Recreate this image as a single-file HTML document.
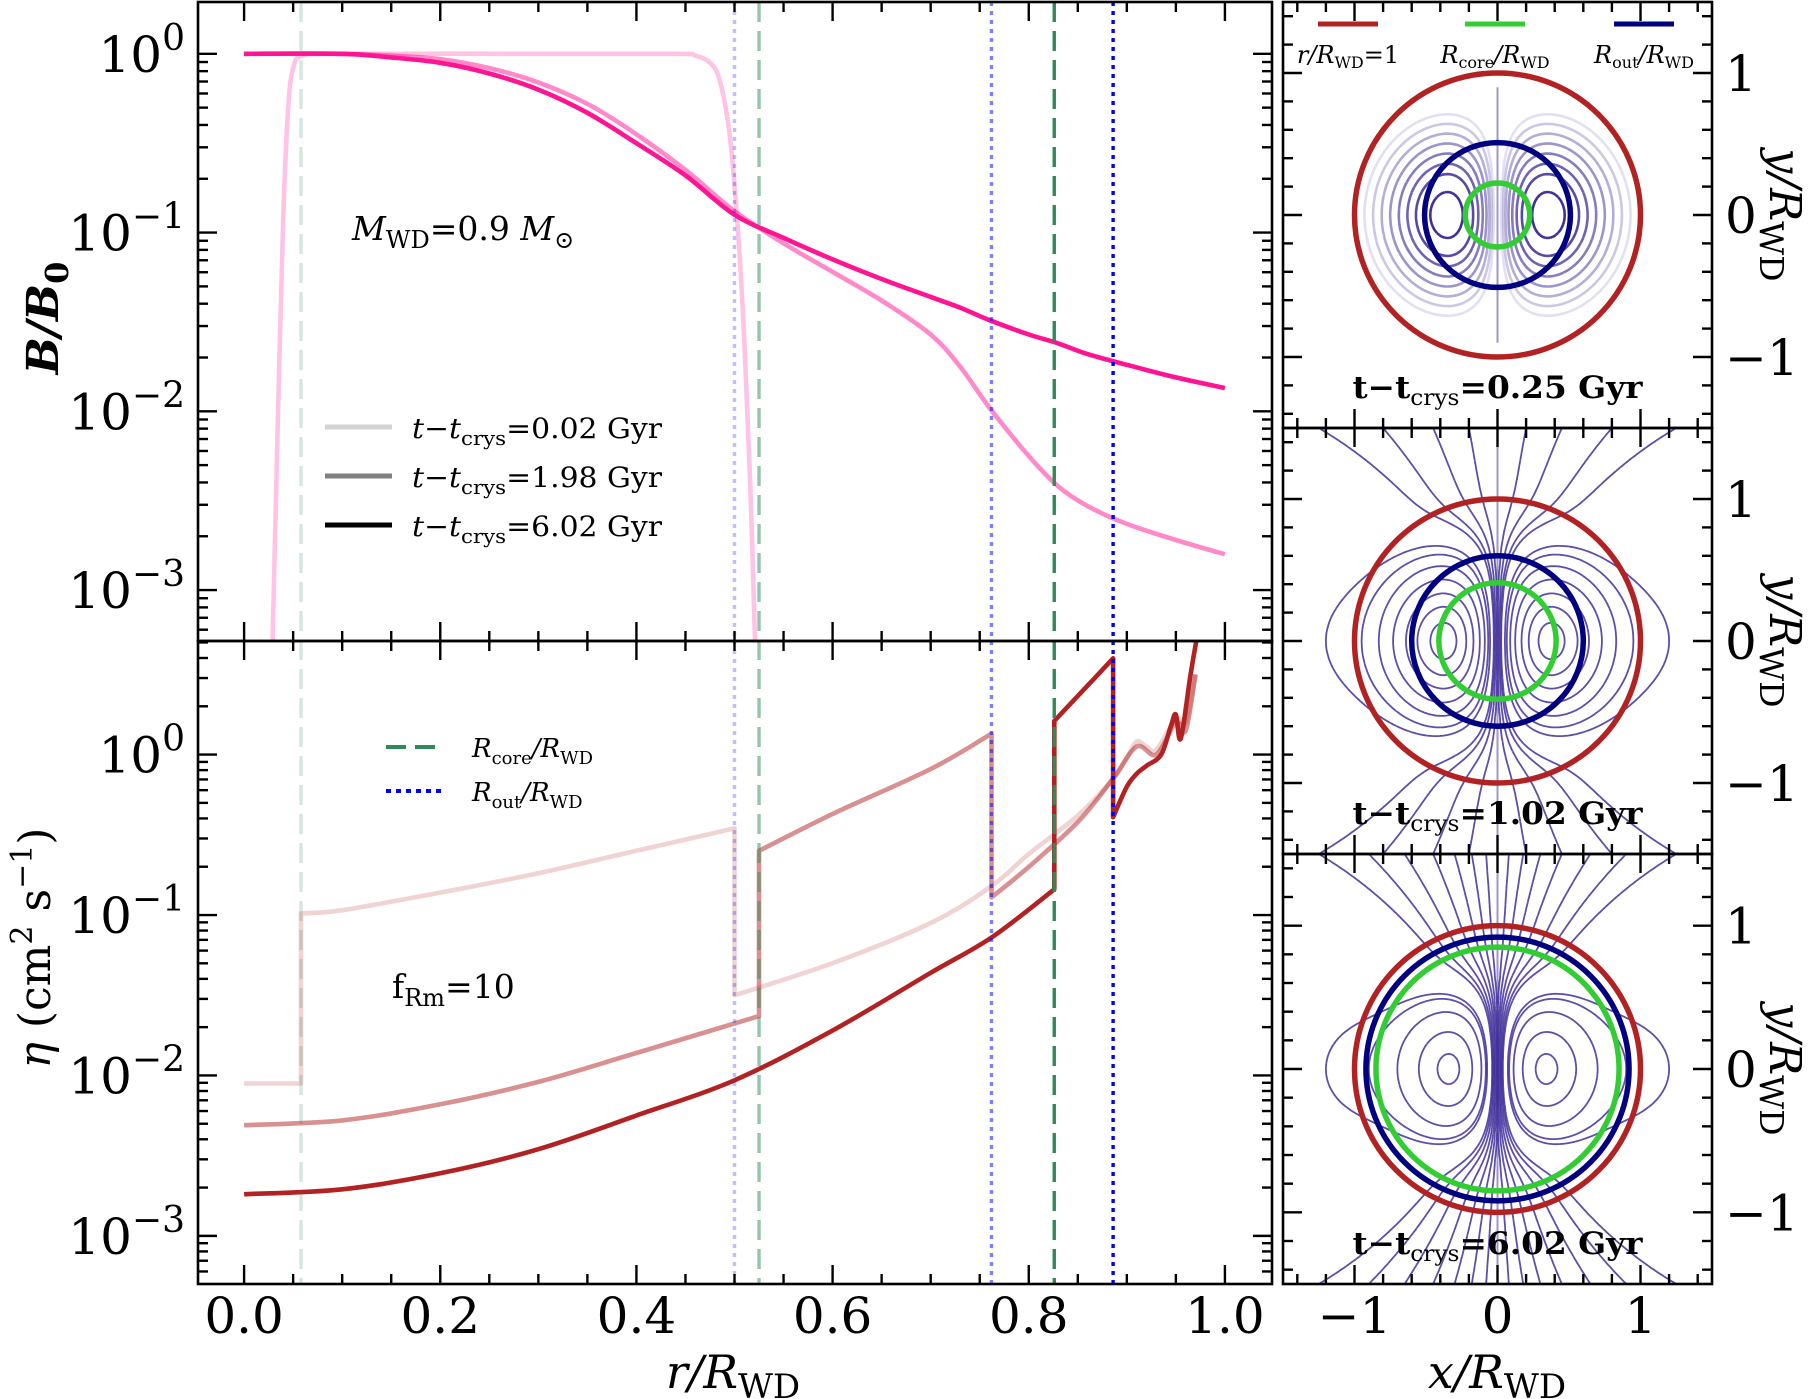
<!DOCTYPE html>
<html><head><meta charset="utf-8"><title>WD magnetic field evolution</title>
<style>
html,body{margin:0;padding:0;background:#fff;}
svg{display:block;font-family:"DejaVu Serif","Liberation Serif",serif;}
</style></head>
<body>
<svg id="fig" width="1808" height="1399" viewBox="0 0 1808 1399" xmlns="http://www.w3.org/2000/svg">
<defs>
<clipPath id="clipTop"><rect x="198" y="2" width="1074" height="639"/></clipPath>
<clipPath id="clipBot"><rect x="198" y="641" width="1074" height="643"/></clipPath>
<clipPath id="clipP0"><rect x="1283" y="2" width="429" height="426"/></clipPath>
<clipPath id="clipP1"><rect x="1283" y="428" width="429" height="426"/></clipPath>
<clipPath id="clipP2"><rect x="1283" y="854" width="429" height="430"/></clipPath>
</defs>
<g id="layer"></g>
</svg>
<script>
// ---------- data ----------
const xTicks = [0.0, 0.2, 0.4, 0.6, 0.8, 1.0];
const xTickLabels = ["0.0", "0.2", "0.4", "0.6", "0.8", "1.0"];
const topDecades = [0, -1, -2, -3];
const botDecades = [0, -1, -2, -3];
const vlineR = [0.058, 0.5, 0.525, 0.762, 0.826, 0.886];
const vlineKind = ["core", "out", "core", "out", "core", "out"];
const vlineAlpha = [0.2, 0.25, 0.5, 0.5, 1, 1];

const bLightR = [0.029,0.032,0.036,0.04,0.045,0.05,0.06,0.1,0.3,0.44,0.46,0.475,0.485,0.495,0.503,0.51,0.516,0.521];
const bLightV = [-3.3,-2.6,-1.7,-0.9,-0.3,-0.08,-0.01,0,0,0,-0.01,-0.05,-0.15,-0.45,-0.95,-1.6,-2.4,-3.3];
const bMidR = [0,0.1,0.15,0.2,0.25,0.3,0.35,0.4,0.45,0.5,0.55,0.6,0.65,0.7,0.73,0.76,0.8,0.83,0.86,0.9,0.95,1.0];
const bMidV = [0,0,-0.01,-0.03,-0.08,-0.16,-0.28,-0.45,-0.65,-0.88,-1.06,-1.22,-1.38,-1.57,-1.75,-1.98,-2.25,-2.42,-2.53,-2.63,-2.72,-2.8];
const bDarkR = [0,0.1,0.15,0.2,0.25,0.3,0.35,0.4,0.45,0.5,0.55,0.6,0.65,0.7,0.73,0.76,0.8,0.83,0.86,0.9,0.95,1.0];
const bDarkV = [0,0,-0.02,-0.05,-0.11,-0.2,-0.33,-0.5,-0.68,-0.9,-1.03,-1.15,-1.26,-1.36,-1.42,-1.49,-1.57,-1.62,-1.68,-1.74,-1.81,-1.87];

const eLightR = [0,0.058,0.058,0.1,0.2,0.3,0.4,0.5,0.5,0.6,0.7,0.762,0.8,0.85,0.886,0.9,0.91,0.92,0.93,0.95,0.96,0.97];
const eLightV = [-2.05,-2.05,-0.99,-0.97,-0.86,-0.74,-0.6,-0.46,-1.5,-1.3,-1.05,-0.82,-0.62,-0.38,-0.15,-0.02,0.08,0.05,0.03,0.22,0.2,0.5];
const eMidR = [0,0.1,0.2,0.3,0.4,0.525,0.525,0.6,0.7,0.762,0.762,0.8,0.85,0.886,0.91,0.93,0.95,0.96,0.97];
const eMidV = [-2.31,-2.28,-2.18,-2.04,-1.86,-1.63,-0.6,-0.37,-0.09,0.13,-0.89,-0.7,-0.42,-0.15,0.05,0.0,0.2,0.15,0.5];
const eDarkR = [0,0.1,0.2,0.3,0.4,0.5,0.6,0.7,0.762,0.826,0.826,0.86,0.886,0.886,0.9,0.91,0.92,0.935,0.945,0.95,0.955,0.965,0.972];
const eDarkV = [-2.74,-2.71,-2.61,-2.46,-2.25,-2.03,-1.72,-1.36,-1.14,-0.84,0.21,0.43,0.6,-0.39,-0.2,-0.12,-0.07,0.0,0.18,0.25,0.1,0.5,0.75];

const panelTitles = ["0.25", "1.02", "6.02"];
const fieldWidth = [0.35, 0.37, 0.33];
const fieldExt = [0, 0.004, 0.008];
const closedCross0 = [0.47, 0.57, 0.63, 0.69, 0.75, 0.81, 0.87, 0.93];
const closedCross1 = [0.47, 0.56, 0.64, 0.73, 0.83, 0.95, 1.2];
const closedCross2 = [0.42, 0.55, 0.7, 0.9, 1.2];
const openCross0 = [];
const openCross1 = [0.2, 0.45, 0.8, 1.25];
const openCross2 = [0.08, 0.18, 0.3, 0.45, 0.65, 0.9, 1.25];
const outRadius = [0.51, 0.6, 0.92];
const coreRadius = [0.225, 0.41, 0.85];

// ---------- helpers ----------
const NS = "http://www.w3.org/2000/svg";
const layer = document.getElementById("layer");
function el(tag, attrs, parent) {
  const e = document.createElementNS(NS, tag);
  for (const k in attrs) e.setAttribute(k, attrs[k]);
  (parent || layer).appendChild(e);
  return e;
}
const X0 = 198, X1 = 1272;
const xMin = -0.047, xMax = 1.048;
function xs(r) { return X0 + (r - xMin) / (xMax - xMin) * (X1 - X0); }
const T0 = 2, T1 = 641, tMin = -3.285, tMax = 0.29;
function yTop(v) { return T0 + (tMax - v) / (tMax - tMin) * (T1 - T0); }
const B0 = 641, B1 = 1284, eMin = -3.3, eMax = 0.708;
function yBot(v) { return B0 + (eMax - v) / (eMax - eMin) * (B1 - B0); }

function linePath(R, V, yf) {
  const segs = []; let cur = [];
  for (let i = 0; i < R.length; i++) {
    if (cur.length && R[i] === R[i - 1]) { segs.push(cur); cur = []; }
    cur.push([xs(R[i]), yf(V[i])]);
  }
  segs.push(cur);
  let d = "";
  segs.forEach((P, si) => {
    d += (si === 0 ? "M" : "L") + P[0][0].toFixed(1) + " " + P[0][1].toFixed(1);
    for (let i = 0; i < P.length - 1; i++) {
      const p0 = P[Math.max(0, i - 1)], p1 = P[i], p2 = P[i + 1], p3 = P[Math.min(P.length - 1, i + 2)];
      const c1 = [p1[0] + (p2[0] - p0[0]) / 6, p1[1] + (p2[1] - p0[1]) / 6];
      const c2 = [p2[0] - (p3[0] - p1[0]) / 6, p2[1] - (p3[1] - p1[1]) / 6];
      d += "C" + c1[0].toFixed(1) + " " + c1[1].toFixed(1) + " " + c2[0].toFixed(1) + " " + c2[1].toFixed(1) + " " + p2[0].toFixed(1) + " " + p2[1].toFixed(1);
    }
  });
  return d;
}

// ---------- left panels ----------
const gTop = el("g", {"clip-path": "url(#clipTop)"});


const gBot = el("g", {"clip-path": "url(#clipBot)"});



for (let i = 0; i < vlineR.length; i++) {
  const core = vlineKind[i] === "core";
  const ln = el("line", {x1: xs(vlineR[i]), x2: xs(vlineR[i]), y1: 2, y2: 1284,
    stroke: core ? "#2e8b57" : "#0000ff", "stroke-opacity": vlineAlpha[i], "stroke-width": 3.4,
    "stroke-dasharray": core ? "20 9" : "4 5"});
  
  
}

const bSeries = [[bLightR, bLightV, 0.25], [bMidR, bMidV, 0.5], [bDarkR, bDarkV, 1]];
const bNames = ['b-curve-0p02-gyr', 'b-curve-1p98-gyr', 'b-curve-6p02-gyr'];
bSeries.forEach((s, i) => {
  const p = el("path", {d: linePath(s[0], s[1], yTop), fill: "none", stroke: "#ff1493", "stroke-opacity": s[2], "stroke-width": 4.6, "stroke-linejoin": "round"}, gTop);
  
  
});
const eSeries = [[eLightR, eLightV, 0.2], [eMidR, eMidV, 0.5], [eDarkR, eDarkV, 1]];
const eNames = ['eta-curve-0p02-gyr', 'eta-curve-1p98-gyr', 'eta-curve-6p02-gyr'];
eSeries.forEach((s, i) => {
  const p = el("path", {d: linePath(s[0], s[1], yBot), fill: "none", stroke: "#b22222", "stroke-opacity": s[2], "stroke-width": 4.6, "stroke-linejoin": "round"}, gBot);
  
  
});

function tick(x1, y1, x2, y2) { el("line", {x1, y1, x2, y2, stroke: "#000", "stroke-width": 2.4}); }
function leftFrame(y0, y1, yf, decs, vmin, vmax) {
  const fr = el("rect", {x: X0, y: y0, width: X1 - X0, height: y1 - y0, fill: "none", stroke: "#000", "stroke-width": 2.6});
  
  
  for (let k = 0; k <= 21; k++) {
    const r = k * 0.05; if (r > xMax) break;
    const L = (k % 4 === 0) ? 19 : 10;
    tick(xs(r), y1, xs(r), y1 - L); tick(xs(r), y0, xs(r), y0 + L);
  }
  for (let d = Math.ceil(vmin) - 1; d <= Math.floor(vmax); d++) {
    for (let m = 1; m <= 9; m++) {
      const v = d + Math.log10(m);
      if (v < vmin || v > vmax) continue;
      const L = m === 1 ? 19 : 10;
      tick(X0, yf(v), X0 + L, yf(v)); tick(X1, yf(v), X1 - L, yf(v));
    }
  }
  decs.forEach(d => {
    const t = el("text", {x: 185, y: yf(d) + 18, "font-size": 50, "text-anchor": "end"});
    
    
    t.innerHTML = '10<tspan dy="-22" font-size="36">' + (d === 0 ? "0" : "\u2212" + (-d)) + '</tspan>';
  });
}
leftFrame(T0, T1, yTop, topDecades, tMin, tMax);
leftFrame(B0, B1, yBot, botDecades, eMin, eMax);
xTicks.forEach((v, i) => {
  const t = el("text", {x: xs(v), y: 1333, "font-size": 50, "text-anchor": "middle"});
  
  
  t.textContent = xTickLabels[i];
});

let t = el("text", {x: 733, y: 1388, "font-size": 46, "text-anchor": "middle", "font-style": "italic"});


t.innerHTML = 'r/R<tspan font-style="normal" font-size="34" dy="10">WD</tspan>';
t = el("text", {x: 0, y: 0, "font-size": 44, "text-anchor": "middle", "font-style": "italic", "font-weight": "bold", transform: "translate(58,318) rotate(-90)"});


t.innerHTML = 'B/B<tspan font-style="normal" font-size="32" dy="10">0</tspan>';
t = el("text", {x: 0, y: 0, "font-size": 44, "text-anchor": "middle", transform: "translate(50,948) rotate(-90)"});


t.innerHTML = '<tspan font-style="italic">η</tspan> (cm<tspan dy="-18" font-size="30">2</tspan><tspan dy="18"> s</tspan><tspan dy="-18" font-size="30">−1</tspan><tspan dy="18">)</tspan>';

t = el("text", {x: 352, y: 240, "font-size": 33});


t.innerHTML = '<tspan font-style="italic">M</tspan><tspan font-size="24" dy="8">WD</tspan><tspan dy="-8">=0.9 </tspan><tspan font-style="italic">M</tspan><tspan font-size="24" dy="8">⊙</tspan>';
t = el("text", {x: 392, y: 998, "font-size": 33});


t.innerHTML = 'f<tspan font-size="24" dy="8">Rm</tspan><tspan dy="-8">=10</tspan>';

const legTimes = ["0.02", "1.98", "6.02"];
const legCols = ["#d3d3d3", "#808080", "#000000"];
legTimes.forEach((lt, i) => {
  const y = 427 + i * 49;
  const g = el("g", {});
  
  
  el("line", {x1: 325, x2: 392, y1: y, y2: y, stroke: legCols[i], "stroke-width": 5}, g);
  const tx = el("text", {x: 412, y: y + 11, "font-size": 28, textLength: 250, lengthAdjust: "spacingAndGlyphs"}, g);
  tx.innerHTML = '<tspan font-style="italic">t</tspan>−<tspan font-style="italic">t</tspan><tspan font-size="20" dy="7">crys</tspan><tspan dy="-7">=' + lt + ' Gyr</tspan>';
});
let g = el("g", {});


el("line", {x1: 386, x2: 442, y1: 747, y2: 747, stroke: "#2e8b57", "stroke-width": 4, "stroke-dasharray": "20 9"}, g);
t = el("text", {x: 472, y: 757, "font-size": 26, "font-style": "italic"}, g);
t.innerHTML = 'R<tspan font-style="normal" font-size="18" dy="7">core</tspan><tspan dy="-7">/R</tspan><tspan font-style="normal" font-size="18" dy="7">WD</tspan>';
g = el("g", {});


el("line", {x1: 386, x2: 442, y1: 791, y2: 791, stroke: "#0000ff", "stroke-width": 4, "stroke-dasharray": "5 5"}, g);
t = el("text", {x: 472, y: 801, "font-size": 26, "font-style": "italic"}, g);
t.innerHTML = 'R<tspan font-style="normal" font-size="18" dy="7">out</tspan><tspan dy="-7">/R</tspan><tspan font-style="normal" font-size="18" dy="7">WD</tspan>';

// ---------- right panels ----------
const PX0 = 1283, PX1 = 1712;
const panY = [[2, 428], [428, 854], [854, 1284]];
const closedCross = [closedCross0, closedCross1, closedCross2];
const openCross = [openCross0, openCross1, openCross2];
function contourPaths(psi, levels, mx, my) {
  const N = 170, lo = -1.5, step = 3 / N;
  const vals = [];
  for (let j = 0; j <= N; j++) { const row = []; for (let i = 0; i <= N; i++) row.push(psi(lo + i * step, lo + j * step)); vals.push(row); }
  return levels.map(c => {
    let d = "";
    for (let j = 0; j < N; j++) for (let i = 0; i < N; i++) {
      const a = vals[j][i], b = vals[j][i + 1], cc = vals[j + 1][i + 1], dd = vals[j + 1][i];
      const pts = [];
      const x = lo + i * step, y = lo + j * step;
      if ((a > c) !== (b > c)) pts.push([x + step * (c - a) / (b - a), y]);
      if ((b > c) !== (cc > c)) pts.push([x + step, y + step * (c - b) / (cc - b)]);
      if ((dd > c) !== (cc > c)) pts.push([x + step * (c - dd) / (cc - dd), y + step]);
      if ((a > c) !== (dd > c)) pts.push([x, y + step * (c - a) / (dd - a)]);
      for (let k = 0; k + 1 < pts.length; k += 2)
        d += "M" + mx(pts[k][0]).toFixed(1) + " " + my(pts[k][1]).toFixed(1) + "L" + mx(pts[k + 1][0]).toFixed(1) + " " + my(pts[k + 1][1]).toFixed(1);
    }
    return d;
  });
}
panY.forEach((py, p) => {
  const cx = (PX0 + PX1) / 2, cy = (py[0] + py[1]) / 2;
  const sx = (PX1 - PX0) / 3, sy = (py[1] - py[0]) / 3;
  const mx = v => cx + v * sx, my = v => cy - v * sy;
  const gp = el("g", {"clip-path": "url(#clipP" + p + ")"});
  
  
  const s = fieldWidth[p], B = fieldExt[p];
  const psi = (x, y) => { const r2 = x * x + y * y; return x * x * (Math.exp(-r2 / (s * s)) + B / Math.pow(r2 + 0.2, 1.5)); };
  const levels = closedCross[p].map(xc => psi(xc, 0)).concat(openCross[p].map(xc => psi(xc, 1.5)));
  const nClosed = closedCross[p].length;
  const paths = contourPaths(psi, levels, mx, my);
  paths.forEach((d, k) => {
    const op = p === 0 ? Math.max(0.15, 1 - 0.85 * k / (nClosed - 1)) : 0.85;
    const cp = el("path", {d, fill: "none", stroke: "#3f2f9a", "stroke-opacity": op, "stroke-width": p === 0 ? 2.6 : 1.8}, gp);
    
    
  });
  const ax = el("line", {x1: cx, x2: cx, y1: p === 0 ? my(0.9) : py[0], y2: p === 0 ? my(-0.9) : py[1], stroke: "#3f2f9a", "stroke-opacity": 0.5, "stroke-width": 2}, gp);
  
  
  const circ = [[1, "#b22222", 'star-surface-circle'], [outRadius[p], "#000080", 'outer-radius-circle'], [coreRadius[p], "#32cd32", 'core-radius-circle']];
  circ.forEach(ci => {
    const c = el("ellipse", {cx, cy, rx: ci[0] * sx, ry: ci[0] * sy, fill: "none", stroke: ci[1], "stroke-width": 5.5}, gp);
    
    
  });
  const fr = el("rect", {x: PX0, y: py[0], width: PX1 - PX0, height: py[1] - py[0], fill: "none", stroke: "#000", "stroke-width": 2.6});
  
  
  for (let k = -7; k <= 7; k++) {
    const v = k * 0.2, L = (k % 5 === 0) ? 19 : 10;
    tick(mx(v), py[0], mx(v), py[0] + L); tick(mx(v), py[1], mx(v), py[1] - L);
    tick(PX0, my(v), PX0 + L, my(v)); tick(PX1, my(v), PX1 - L, my(v));
  }
  [1, 0, -1].forEach(v => {
    const tl = el("text", {x: 1725, y: my(v) + 18, "font-size": 50});
    
    
    tl.textContent = v < 0 ? "\u22121" : String(v);
  });
  const yl = el("text", {x: 0, y: 0, "font-size": 44, "text-anchor": "middle", "font-style": "italic", transform: "translate(1770," + cy + ") rotate(90)"});
  
  
  yl.innerHTML = 'y/R<tspan font-style="normal" font-size="33" dy="10">WD</tspan>';
  const tt = el("text", {x: cx, y: py[1] - 30, "font-size": 31, "font-weight": "bold", "text-anchor": "middle", textLength: 290, lengthAdjust: "spacingAndGlyphs"});
  
  
  tt.innerHTML = 't−t<tspan font-size="22" dy="7" font-weight="normal">crys</tspan><tspan dy="-7">=' + panelTitles[p] + ' Gyr</tspan>';
  if (p === 2) {
    [-1, 0, 1].forEach(v => {
      const xl = el("text", {x: mx(v), y: 1333, "font-size": 50, "text-anchor": "middle"});
      
      
      xl.textContent = v < 0 ? "\u22121" : String(v);
    });
  }
});
t = el("text", {x: 1497, y: 1388, "font-size": 46, "text-anchor": "middle", "font-style": "italic"});


t.innerHTML = 'x/R<tspan font-style="normal" font-size="34" dy="10">WD</tspan>';

const rl = [[1318, "#b22222", 'r/R<tspan font-style="normal" font-size="16" dy="5">WD</tspan><tspan font-style="normal" dy="-5">=1</tspan>', 'legend-surface'],
            [1465, "#32cd32", 'R<tspan font-style="normal" font-size="16" dy="5">core</tspan><tspan dy="-5">/R</tspan><tspan font-style="normal" font-size="16" dy="5">WD</tspan>', 'legend-core-circle'],
            [1614, "#000080", 'R<tspan font-style="normal" font-size="16" dy="5">out</tspan><tspan dy="-5">/R</tspan><tspan font-style="normal" font-size="16" dy="5">WD</tspan>', 'legend-out-circle']];
rl.forEach(e => {
  const gg = el("g", {});
  
  
  el("line", {x1: e[0], x2: e[0] + 60, y1: 24, y2: 24, stroke: e[1], "stroke-width": 5}, gg);
  const tx = el("text", {x: e[0] + 30, y: 63, "font-size": 24, "font-style": "italic", "text-anchor": "middle"}, gg);
  tx.innerHTML = e[2];
});
</script>
</body></html>
